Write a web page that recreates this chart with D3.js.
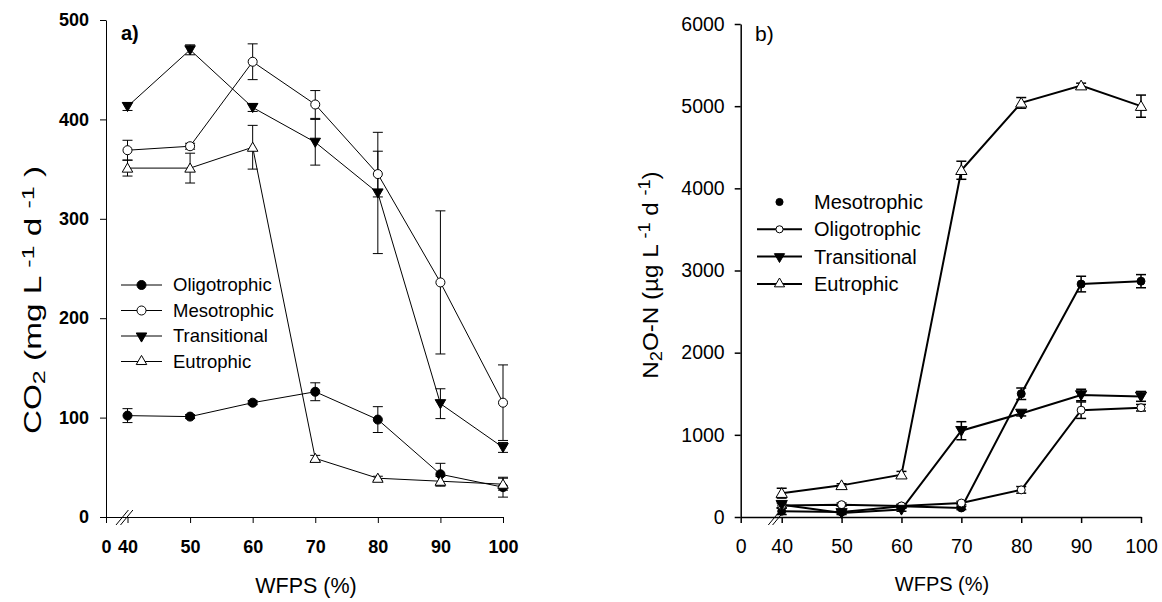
<!DOCTYPE html>
<html>
<head>
<meta charset="utf-8">
<script src="https://cdn.jsdelivr.net/npm/d3@7/dist/d3.min.js"></script>
<style>
  html, body { margin: 0; padding: 0; background: #fff; }
  svg { display: block; font-family: "Liberation Sans", Arial, sans-serif; }
</style>
</head>
<body>
<svg id="chart" width="1162" height="602"></svg>
<script>
// ---------- data ----------
const wfps = [40, 50, 60, 70, 80, 90, 100];
const xTicks = [0, 40, 50, 60, 70, 80, 90, 100];

// Panel a: CO2 (mg L-1 d-1)
const co2Oligo = [102, 101, 115, 126, 98, 43, 30];
const co2OligoErr = [7, 2, 2, 9, 13, 11, 10];
const co2Meso = [369, 373, 458, 415, 345, 236, 115];
const co2MesoErr = [10, 3, 18, 14, 23, 72, 38];
const co2Trans = [413, 470, 412, 377, 326, 114, 70];
const co2TransErr = [4, 5, 4, 23, 61, 15, 5];
const co2Eutro = [351, 351, 372, 59, 39, 36, 33];
const co2EutroErr = [8, 15, 22, 3, 2, 5, 6];
const co2Ticks = [0, 100, 200, 300, 400, 500];

// Panel b: N2O-N (ug L-1 d-1)
const n2oMeso = [70, 60, 130, 110, 1500, 2835, 2870];
const n2oMesoErr = [40, 20, 20, 20, 70, 95, 80];
const n2oOligo = [140, 150, 135, 170, 330, 1300, 1330];
const n2oOligoErr = [30, 20, 20, 20, 40, 100, 40];
const n2oTrans = [150, 50, 90, 1050, 1260, 1485, 1468];
const n2oTransErr = [40, 20, 20, 110, 30, 70, 60];
const n2oEutro = [290, 385, 515, 4220, 5040, 5250, 5000];
const n2oEutroErr = [60, 20, 40, 110, 65, 30, 135];
const n2oTicks = [0, 1000, 2000, 3000, 4000, 5000, 6000];

const svg = d3.select("#chart");

const markerStyles = {
  filledCircle: { type: d3.symbolCircle, fill: "#000", rot: 0 },
  openCircle:   { type: d3.symbolCircle, fill: "#fff", rot: 0 },
  filledDown:   { type: d3.symbolTriangle, fill: "#000", rot: 180 },
  openUp:       { type: d3.symbolTriangle, fill: "#fff", rot: 0 }
};

function drawPanel(cfg) {
  const g = svg.append("g");
  const x = d3.scaleLinear().domain([0, 40, 100]).range([cfg.x0, cfg.x40, cfg.x100]);
  const y = d3.scaleLinear().domain(cfg.yDomain).range([cfg.yBottom, cfg.yTop]);

  // axes
  const xAxis = d3.axisBottom(x).tickValues(xTicks).tickSize(6).tickSizeOuter(0).tickPadding(cfg.xPad)
    .tickFormat(d3.format("d"));
  const gx = g.append("g").attr("transform", `translate(0,${cfg.yBottom})`).call(xAxis);
  const yAxis = d3.axisLeft(y).tickValues(cfg.yTicks).tickSize(6).tickSizeOuter(0).tickPadding(cfg.yPad)
    .tickFormat(d3.format("d"));
  const gy = g.append("g").attr("transform", `translate(${cfg.x0},0)`).call(yAxis);
  [gx, gy].forEach(ax => {
    ax.selectAll("path.domain").attr("stroke", "#000").attr("stroke-width", cfg.axisW);
    ax.selectAll(".tick line").attr("stroke", "#000").attr("stroke-width", cfg.axisW);
    ax.selectAll(".tick text").attr("fill", "#000")
      .style("font-size", cfg.tickFont + "px").style("font-weight", cfg.tickWeight)
      .style("font-family", '"Liberation Sans", Arial, sans-serif');
  });
  gx.selectAll(".tick text").attr("dy", "0.71em");

  // axis break marks
  const bx = x(40) - cfg.breakOff;
  [0, cfg.breakGap].forEach(dx => {
    g.append("line")
      .attr("x1", bx + dx - 6.2).attr("y1", cfg.yBottom + 8)
      .attr("x2", bx + dx + 6.2).attr("y2", cfg.yBottom - 7)
      .attr("stroke", "#000").attr("stroke-width", 1);
  });

  // series
  const line = d3.line().x((d, i) => x(wfps[i])).y(d => y(d));
  cfg.series.forEach(s => {
    s.values.forEach((v, i) => {
      const e = s.err[i];
      if (!e) return;
      const cx = x(wfps[i]);
      g.append("line").attr("x1", cx).attr("x2", cx).attr("y1", y(v - e)).attr("y2", y(v + e))
        .attr("stroke", "#000").attr("stroke-width", cfg.errW);
      [v - e, v + e].forEach(t => {
        g.append("line").attr("x1", cx - cfg.capW / 2).attr("x2", cx + cfg.capW / 2)
          .attr("y1", y(t)).attr("y2", y(t)).attr("stroke", "#000").attr("stroke-width", cfg.errW);
      });
    });
    g.append("path").datum(s.values).attr("d", line)
      .attr("fill", "none").attr("stroke", "#000").attr("stroke-width", cfg.lineW);
  });
  cfg.series.forEach(s => {
    const ms = markerStyles[s.marker];
    const size = ms.type === d3.symbolCircle ? cfg.circleSize : cfg.triSize;
    const sym = d3.symbol().type(ms.type).size(size);
    s.values.forEach((v, i) => {
      const dy = ms.type === d3.symbolTriangle ? (ms.rot ? -1 : 1) : 0;
      g.append("path").attr("d", sym())
        .attr("transform", `translate(${x(wfps[i])},${y(v) + dy}) rotate(${ms.rot})`)
        .attr("fill", ms.fill).attr("stroke", "#000").attr("stroke-width", 1);
    });
  });

  // legend
  cfg.legend.forEach((L, i) => {
    const ly = cfg.legY + i * cfg.legStep;
    const ms = markerStyles[L.marker];
    if (L.line) {
      g.append("line").attr("x1", cfg.legX1).attr("x2", cfg.legX2).attr("y1", ly).attr("y2", ly)
        .attr("stroke", "#000").attr("stroke-width", cfg.lineW);
    }
    const size = ms.type === d3.symbolCircle ? cfg.legCircle : cfg.legTri;
    g.append("path").attr("d", d3.symbol().type(ms.type).size(size)())
      .attr("transform", `translate(${(cfg.legX1 + cfg.legX2) / 2},${ly}) rotate(${ms.rot})`)
      .attr("fill", ms.fill).attr("stroke", "#000").attr("stroke-width", 1);
    g.append("text").attr("x", cfg.legTextX).attr("y", ly).attr("dy", "0.35em")
      .style("font-size", cfg.legFont + "px").text(L.label);
  });

  // panel label
  g.append("text").attr("x", cfg.labX).attr("y", cfg.labY)
    .style("font-size", cfg.labFont + "px").style("font-weight", cfg.labWeight).text(cfg.label);

  // x title
  g.append("text").attr("x", cfg.xtX).attr("y", cfg.xtY).attr("text-anchor", "middle")
    .style("font-size", cfg.xtFont + "px").text("WFPS (%)");

  // y title
  const yt = g.append("text")
    .attr("transform", `translate(${cfg.ytX},${cfg.ytY}) rotate(-90) scale(${cfg.ytStretch},1)`)
    .attr("text-anchor", "middle").style("font-size", cfg.ytFont + "px");
  cfg.yTitle.forEach(p => {
    const t = yt.append("tspan").text(p.t);
    if (p.sub) t.attr("baseline-shift", "-25%").style("font-size", (cfg.ytFont * 0.75) + "px");
    if (p.sup) t.attr("baseline-shift", "45%").style("font-size", (cfg.ytFont * 0.75) + "px");
  });
}

drawPanel({
  x0: 106, x40: 127.5, x100: 503, yBottom: 517, yTop: 20, yDomain: [0, 500], yTicks: co2Ticks,
  axisW: 1, tickFont: 18, tickWeight: "bold", xPad: 17, yPad: 11, lineW: 1, errW: 1, capW: 10,
  circleSize: 64, triSize: 48, breakOff: 5.3, breakGap: 4.5,
  series: [
    { values: co2Oligo, err: co2OligoErr, marker: "filledCircle" },
    { values: co2Meso, err: co2MesoErr, marker: "openCircle" },
    { values: co2Trans, err: co2TransErr, marker: "filledDown" },
    { values: co2Eutro, err: co2EutroErr, marker: "openUp" }
  ],
  legend: [
    { label: "Oligotrophic", marker: "filledCircle", line: true },
    { label: "Mesotrophic", marker: "openCircle", line: true },
    { label: "Transitional", marker: "filledDown", line: true },
    { label: "Eutrophic", marker: "openUp", line: true }
  ],
  legX1: 121, legX2: 162, legTextX: 173, legY: 285, legStep: 25.5, legFont: 18.5,
  legCircle: 64, legTri: 48,
  label: "a)", labX: 121, labY: 40, labFont: 20, labWeight: "bold",
  xtX: 306, xtY: 593, xtFont: 21.5,
  ytX: 41, ytY: 300, ytFont: 23, ytStretch: 1.45,
  yTitle: [{ t: "CO" }, { t: "2", sub: true }, { t: " (mg L " }, { t: "-1", sup: true }, { t: " d " }, { t: "-1", sup: true }, { t: " )" }]
});

drawPanel({
  x0: 740.7, x40: 781.7, x100: 1141, yBottom: 517, yTop: 24, yDomain: [0, 6000], yTicks: n2oTicks,
  axisW: 1.5, tickFont: 19.5, tickWeight: "normal", xPad: 16, yPad: 10, lineW: 2, errW: 1.5, capW: 10,
  circleSize: 50, triSize: 55, breakOff: 7.2, breakGap: 4.3,
  series: [
    { values: n2oMeso, err: n2oMesoErr, marker: "filledCircle" },
    { values: n2oOligo, err: n2oOligoErr, marker: "openCircle" },
    { values: n2oTrans, err: n2oTransErr, marker: "filledDown" },
    { values: n2oEutro, err: n2oEutroErr, marker: "openUp" }
  ],
  legend: [
    { label: "Mesotrophic", marker: "filledCircle", line: false },
    { label: "Oligotrophic", marker: "openCircle", line: true },
    { label: "Transitional", marker: "filledDown", line: true },
    { label: "Eutrophic", marker: "openUp", line: true }
  ],
  legX1: 757, legX2: 802, legTextX: 814, legY: 202, legStep: 27.3, legFont: 20,
  legCircle: 40, legTri: 45,
  label: "b)", labX: 755, labY: 41, labFont: 21, labWeight: "normal",
  xtX: 942, xtY: 591, xtFont: 20,
  ytX: 658, ytY: 275, ytFont: 22, ytStretch: 1.1,
  yTitle: [{ t: "N" }, { t: "2", sub: true }, { t: "O-N (µg L " }, { t: "-1", sup: true }, { t: " d " }, { t: "-1", sup: true }, { t: ")" }]
});
</script>
</body>
</html>
